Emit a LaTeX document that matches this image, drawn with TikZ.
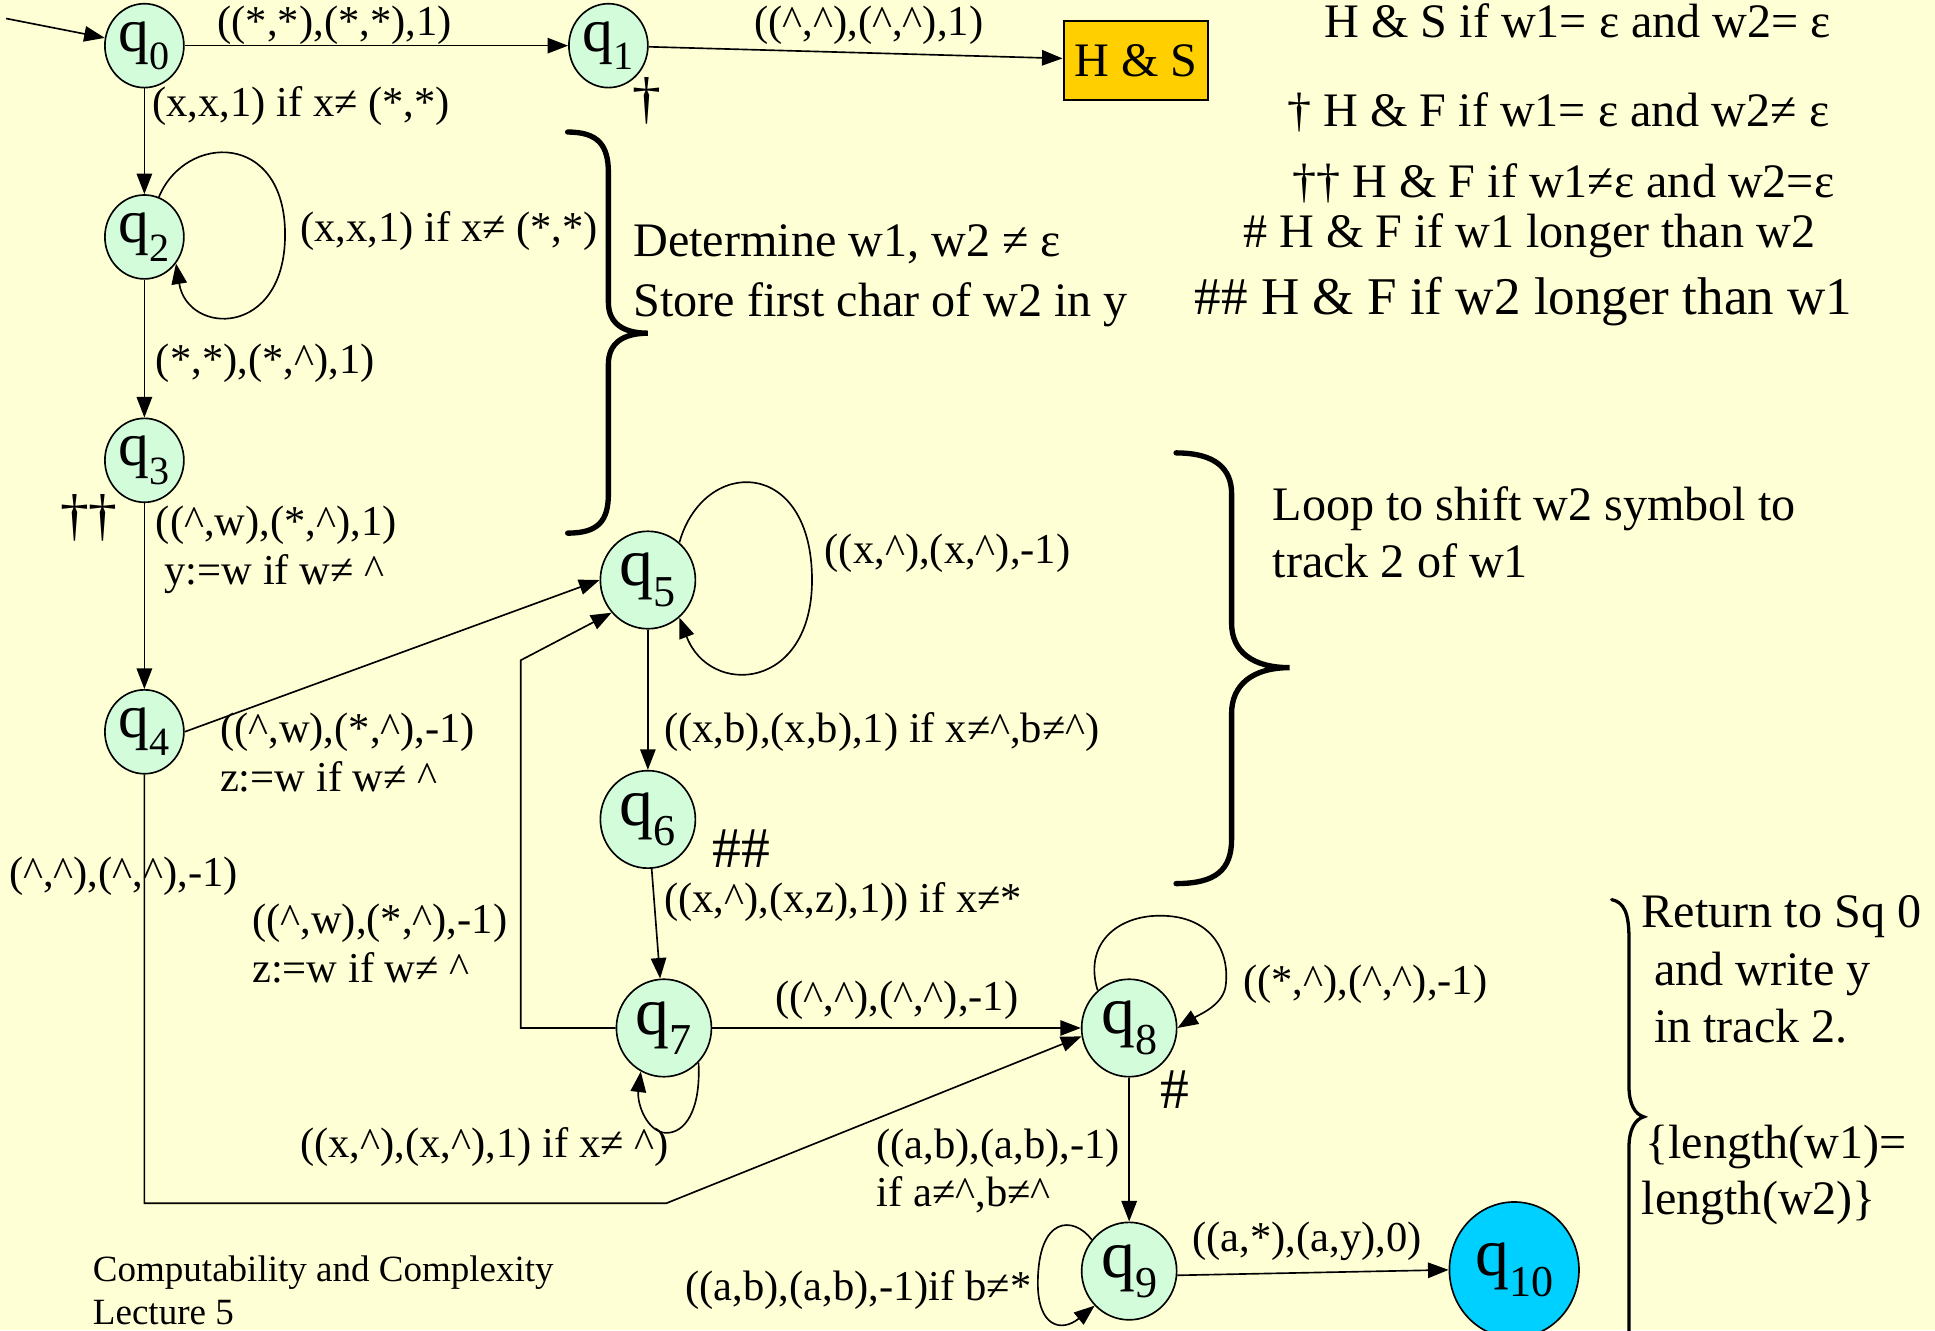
\documentclass[tikz,border=0pt]{standalone}
\usepackage{fontspec}
\setmainfont{Liberation Serif}
\usepackage{graphicx}
\usetikzlibrary{shapes.geometric,arrows.meta}
\definecolor{bgc}{RGB}{255,255,213}
\definecolor{ngreen}{RGB}{210,252,218}
\definecolor{hsgold}{RGB}{255,207,0}
\definecolor{fcyan}{RGB}{0,208,255}
\newcommand{\qlab}[1]{q\raisebox{-0.3em}{\scalebox{0.65}{#1}}}
\newcommand{\ca}{\textasciicircum}
\begin{document}
\begin{tikzpicture}[x=0.6pt,y=-0.6pt,
  st/.style={ellipse,draw,line width=0.8pt,fill=ngreen,inner sep=0pt,minimum width=38.4pt,minimum height=40.8pt,font=\fontsize{30}{30}\selectfont},
  stbig/.style={st,minimum width=46.2pt,minimum height=47.4pt,font=\fontsize{33}{33}\selectfont},
  lab/.style={anchor=west,inner sep=0pt,text height=1.05em,text depth=0em,font=\fontsize{20.7}{22}\selectfont},
  note/.style={anchor=west,inner sep=0pt,text height=1.05em,text depth=0em,font=\fontsize{23.4}{26}\selectfont},
  foot/.style={anchor=west,inner sep=0pt,text height=1.0em,text depth=0em,font=\fontsize{18}{20}\selectfont},
  mk/.style={inner sep=0pt,font=\fontsize{28}{28}\selectfont},
  arr/.style={draw,line width=0.8pt,-{Triangle[length=10pt,width=7.5pt]}},
  bracel/.style={draw,line width=2.6pt,line cap=round},
  bracer/.style={draw,line width=1.6pt,line cap=round}
]
\useasboundingbox (0,0) rectangle (1568,1078);
\fill[bgc] (0,0) rectangle (1568,1078);

% states
\node[st] (q0) at (117,37) {\qlab{0}};
\node[st] (q1) at (493,37) {\qlab{1}};
\node[st] (q2) at (117,192) {\qlab{2}};
\node[st] (q3) at (117,373) {\qlab{3}};
\node[st] (q4) at (117,593) {\qlab{4}};
\node[stbig] (q5) at (525,470) {\qlab{5}};
\node[stbig] (q6) at (525,664) {\qlab{6}};
\node[stbig] (q7) at (538,833) {\qlab{7}};
\node[stbig] (q8) at (915,833) {\qlab{8}};
\node[stbig] (q9) at (915,1030) {\qlab{9}};
\node[stbig,fill=fcyan,minimum width=63pt,minimum height=66pt] (q10) at (1227,1029) {\qlab{10}};
\node[draw,fill=hsgold,line width=1.2pt,minimum width=70.2pt,minimum height=38.4pt,inner sep=0pt,font=\fontsize{23.4}{26}\selectfont] (hs) at (920.5,49) {H \& S};

% connectors
\coordinate (init) at (5,15);
\draw[arr] (init) -- (q0);
\draw[arr] (q0) -- (q1);
\draw[arr] (q1) -- (hs);
\draw[arr] (q0) -- (q2);
\draw[arr] (q2.70) .. controls (150,108) and (231,106) .. (231,190) .. controls (231,274) and (152,272) .. (q2.-40);
\draw[arr] (q2) -- (q3);
\draw[arr] (q3) -- (q4);
\draw[arr] (q4.east) -- (q5.west);
\coordinate (b1) at (117,975);
\coordinate (b2) at (540,975);
\draw[arr] (q4.south) -- (b1) -- (b2) -- (q8.190);
\draw[arr] (q5.50) .. controls (570,370) and (658,370) .. (658,470) .. controls (658,560) and (575,565) .. (q5.-50);
\draw[arr] (q5) -- (q6);
\draw[arr] (q6) -- (q7);
\coordinate (c1) at (422,833);
\coordinate (c2) at (422,535);
\draw[arr] (q7.west) -- (c1) -- (c2) -- (q5.222);
\draw[arr] (q7) -- (q8);
\draw[arr] (q7.-45) .. controls (568,900) and (555,918) .. (540,918) .. controls (525,918) and (516,895) .. (q7.-118);
\draw[arr] (q8.130) .. controls (878,765) and (905,742) .. (940,742) .. controls (985,742) and (997,775) .. (993,800) .. controls (990,815) and (972,822) .. (q8.0);
\draw[arr] (q8) -- (q9);
\draw[arr] (q9.140) .. controls (870,985) and (841,985) .. (841,1040) .. controls (841,1075) and (860,1080) .. (q9.225);
\draw[arr] (q9.-5) -- (q10.west);

% braces
\draw[bracel] (460,107) .. controls (485,107) and (493,118) .. (493,140) -- (493,245) .. controls (493,262) and (505,270) .. (525,270) .. controls (505,270) and (493,278) .. (493,295) -- (493,400) .. controls (493,422) and (485,432) .. (460,432);
\draw[bracel] (953,367) .. controls (985,367) and (998,380) .. (998,400) -- (998,505) .. controls (998,528) and (1015,541) .. (1045,541) .. controls (1015,541) and (998,555) .. (998,578) -- (998,680) .. controls (998,705) and (985,716) .. (953,716);
\draw[bracer] (1306,729) .. controls (1316,731) and (1320,740) .. (1320,760) -- (1320,880) .. controls (1320,895) and (1325,903) .. (1332,905) .. controls (1325,907) and (1320,915) .. (1320,930) -- (1320,1100);

% edge labels
\node[lab] (l01) at (176,20) {((*,*),(*,*),1)};
\node[lab] (l02) at (123,86) {(x,x,1) if x≠ (*,*)};
\node[lab] (l22) at (243,187) {(x,x,1) if x≠ (*,*)};
\node[lab] (l23) at (126,294) {(*,*),(*,\ca),1)};
\node[lab] (l1hs) at (611,20) {((\ca,\ca),(\ca,\ca),1)};
\node[lab] (l34a) at (126,425) {((\ca,w),(*,\ca),1)};
\node[lab] (l34b) at (133,465) {y:=w if w≠ \ca};
\node[lab] (l55) at (668,448) {((x,\ca),(x,\ca),-1)};
\node[lab] (l56) at (538,593) {((x,b),(x,b),1) if x≠\ca,b≠\ca)};
\node[lab] (l45a) at (178,593) {((\ca,w),(*,\ca),-1)};
\node[lab] (l45b) at (178,633) {z:=w if w≠ \ca};
\node[lab] (l67) at (538,731) {((x,\ca),(x,z),1)) if x≠*};
\node[lab] (l48) at (7,710) {(\ca,\ca),(\ca,\ca),-1)};
\node[lab] (l75a) at (204,748) {((\ca,w),(*,\ca),-1)};
\node[lab] (l75b) at (204,787) {z:=w if w≠ \ca};
\node[lab] (l78) at (628,810) {((\ca,\ca),(\ca,\ca),-1)};
\node[lab] (l77) at (243,929) {((x,\ca),(x,\ca),1) if x≠ \ca)};
\node[lab] (l88) at (1007,797) {((*,\ca),(\ca,\ca),-1)};
\node[lab] (l89a) at (710,930) {((a,b),(a,b),-1)};
\node[lab] (l89b) at (710,969) {if a≠\ca,b≠\ca};
\node[lab] (l910) at (966,1005) {((a,*),(a,y),0)};
\node[lab] (l99) at (555,1045) {((a,b),(a,b),-1)if b≠*};

% markers
\node[mk] (d1) at (524,82) {†};
\node[mk] (d3) at (72,420) {††};
\node[mk,anchor=west] (h6) at (577,688) {\#\#};
\node[mk,anchor=west] (h8) at (940,883) {\#};

% notes
\node[note] (n1) at (1073,22) {H \& S if w1= ε and w2= ε};
\node[note] (n2) at (1043,94) {† H \& F if w1= ε and w2≠ ε};
\node[note] (n3) at (1047,151) {†† H \& F if w1≠ε and w2=ε};
\node[note] (n4) at (1007,192) {\# H \& F if w1 longer than w2};
\node[note,font=\fontsize{25.8}{28}\selectfont] (n5) at (968,246) {\#\# H \& F if w2 longer than w1};
\node[note] (n6) at (513,199) {Determine w1, w2 ≠ ε};
\node[note] (n7) at (513,248) {Store first char of w2 in y};
\node[note] (n8) at (1031,413) {Loop to shift w2 symbol to};
\node[note] (n9) at (1031,459) {track 2 of w1};
\node[note] (n10) at (1330,743) {Return to Sq 0};
\node[note] (n11) at (1340,790) {and write y};
\node[note] (n12) at (1340,836) {in track 2.};
\node[note] (n13) at (1333,930) {\{length(w1)=};
\node[note] (n14) at (1330,975) {length(w2)\}};

% footer
\node[foot] (f1) at (75,1030) {Computability and Complexity};
\node[foot] (f2) at (75,1065) {Lecture 5};
\end{tikzpicture}
\end{document}
